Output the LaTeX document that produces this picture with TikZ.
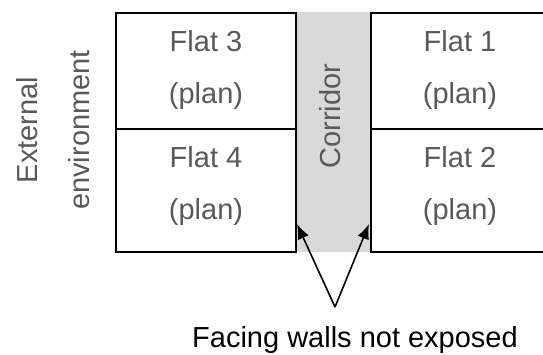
\documentclass[tikz,border=0pt]{standalone}
\usepackage{fontspec}
\setmainfont{Liberation Sans}
\usetikzlibrary{arrows.meta}
\definecolor{textgray}{HTML}{595959}
\definecolor{corridorgray}{HTML}{D9D9D9}
\tikzset{
	wall/.style={
		draw=black,
		line width=2pt
	},
	plantext/.style={
		text=textgray,
		inner sep=0pt,
		anchor=base,
		font=\fontsize{29}{34}\selectfont
	},
	notetext/.style={
		text=black,
		inner sep=0pt,
		anchor=base,
		font=\fontsize{29}{34}\selectfont
	},
	pointer/.style={
		line width=1.6pt,
		-{Latex[length=15pt,width=12pt]}
	}
}

\begin{document}
\begin{tikzpicture}[x=1pt,y=-1pt]
	\useasboundingbox (0,0) rectangle (543,354);
	\fill[corridorgray] (297,12) rectangle (370,252);
	\draw[wall] (116,13) rectangle (296,252);
	\draw[wall] (116,129) -- (296,129);
	\draw[wall] (560,13) -- (371,13) -- (371,252) -- (560,252);
	\draw[wall] (371,129) -- (560,129);
	
	\draw node[plantext, rotate=90] (External) at (37,130) {External};
	\draw node[plantext, rotate=90] (Environment) at (89,130) {environment};
	\draw node[plantext, rotate=90] (Corridor) at (340,116) {Corridor};
	
	\draw node[plantext] (Flat3) at (206,51) {Flat 3};
	\draw node[plantext] (Plan3) at (206,103) {(plan)};
	\draw node[plantext] (Flat4) at (206,167) {Flat 4};
	\draw node[plantext] (Plan4) at (206,219) {(plan)};
	\draw node[plantext] (Flat1) at (460,51) {Flat 1};
	\draw node[plantext] (Plan1) at (460,103) {(plan)};
	\draw node[plantext] (Flat2) at (460,167) {Flat 2};
	\draw node[plantext] (Plan2) at (460,219) {(plan)};
	
	\draw node[notetext] (Note) at (355,347) {Facing walls not exposed};
	\coordinate (Apex) at (335,307);
	\coordinate (WallLeft) at (297,224);
	\coordinate (WallRight) at (369,224);
	
	\draw [pointer] (Apex) -- (WallLeft);
	\draw [pointer] (Apex) -- (WallRight);
\end{tikzpicture}
\end{document}
